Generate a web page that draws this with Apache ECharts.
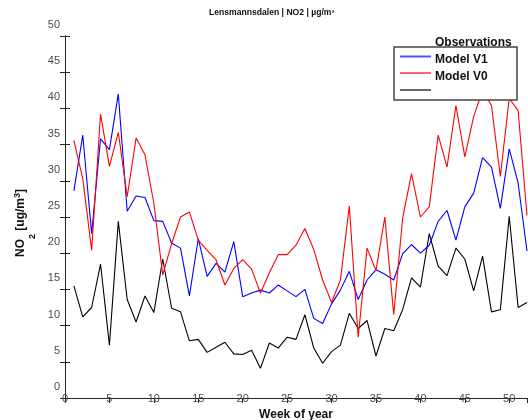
<!DOCTYPE html>
<html>
<head>
<meta charset="utf-8">
<script src="https://cdn.jsdelivr.net/npm/echarts@6/dist/echarts.min.js"></script>
<style>
  html, body { margin: 0; padding: 0; background: #fff; }
  #chart { width: 528px; height: 420px; }
</style>
</head>
<body>
<div id="chart"></div>
<script>
// Weekly mean NO2 at Lensmannsdalen, µg/m³
const weeks = [1, 2, 3, 4, 5, 6, 7, 8, 9, 10, 11, 12, 13, 14, 15, 16, 17, 18, 19, 20,
  21, 22, 23, 24, 25, 26, 27, 28, 29, 30, 31, 32, 33, 34, 35, 36, 37, 38, 39, 40,
  41, 42, 43, 44, 45, 46, 47, 48, 49, 50, 51, 52];

const observations = [15.5, 11.2, 12.5, 18.5, 7.3, 24.4, 13.6, 10.5, 14.1, 11.8,
  19.2, 12.4, 11.9, 7.9, 8.1, 6.3, 7.0, 7.7, 6.1, 6.0,
  6.6, 4.1, 7.6, 6.9, 8.4, 8.1, 11.5, 6.9, 4.8, 6.4,
  7.3, 11.7, 9.6, 10.7, 5.8, 9.6, 9.3, 12.2, 16.6, 15.3,
  22.7, 18.2, 16.9, 20.7, 19.2, 14.8, 19.6, 11.9, 12.2, 25.1,
  12.5, 13.2];

const modelV1 = [28.6, 36.3, 22.7, 35.8, 34.3, 42.0, 25.8, 27.9, 27.7, 24.5,
  24.4, 21.4, 20.7, 14.1, 22.0, 16.8, 18.6, 17.4, 21.6, 14.0,
  14.5, 14.9, 14.5, 15.6, 14.8, 14.0, 15.0, 11.0, 10.3, 13.0,
  14.9, 17.5, 13.6, 16.3, 17.7, 17.1, 16.3, 19.9, 21.2, 20.0,
  21.1, 24.4, 25.9, 21.8, 26.4, 28.3, 33.2, 31.9, 26.2, 34.4,
  29.7, 20.3];

const modelV0 = [35.6, 30.3, 20.4, 39.2, 32.0, 36.7, 27.8, 35.9, 33.6, 26.9,
  17.0, 21.3, 25.0, 25.7, 21.8, 20.4, 19.1, 15.6, 17.9, 19.1,
  17.8, 14.5, 17.3, 19.8, 19.8, 21.1, 23.4, 20.5, 16.3, 13.2,
  16.3, 26.5, 8.4, 20.7, 17.6, 25.0, 11.5, 24.8, 31.0, 25.0,
  26.4, 36.3, 31.9, 40.4, 33.3, 38.9, 42.5, 40.4, 30.6, 41.4,
  39.7, 25.2];

const xTicks = [0, 5, 10, 15, 20, 25, 30, 35, 40, 45, 50];
const yTicks = [0, 5, 10, 15, 20, 25, 30, 35, 40, 45, 50];

const FONT = 'Liberation Sans, Arial, sans-serif';
const AXIS_COLOR = '#262626';
const LABEL_COLOR = '#4a4a4a';

const pair = (xs, ys) => xs.map((x, i) => [x, ys[i]]);

const chart = echarts.init(document.getElementById('chart'), null, { renderer: 'canvas' });

const tickFmt = list => v => (list.indexOf(v) >= 0 ? String(v) : '');

const option = {
  animation: false,
  backgroundColor: '#fff',
  textStyle: { fontFamily: FONT },
  title: {
    text: 'Lensmannsdalen | NO2 | µg/m³',
    left: 209,
    top: 8,
    padding: 0,
    textStyle: { fontFamily: FONT, fontWeight: 'bold', fontSize: 8.6, color: '#111' }
  },
  grid: { left: 65, right: 1, top: 36, bottom: 22, containLabel: false, outerBoundsMode: 'none' },
  xAxis: [
    {
      type: 'value', min: 0, max: 52, interval: 5,
      name: 'Week of year', nameLocation: 'middle', nameGap: 2,
      nameTextStyle: { fontFamily: FONT, fontWeight: 'bold', fontSize: 12, color: '#111' },
      axisLine: { show: true, lineStyle: { color: AXIS_COLOR, width: 1 } },
      axisTick: { show: false },
      splitLine: { show: false },
      axisLabel: {
        margin: -5, fontSize: 11, color: LABEL_COLOR, fontFamily: FONT,
        formatter: tickFmt(xTicks)
      }
    },
    {
      type: 'value', min: 0, max: 52, interval: 5, position: 'top',
      axisLine: { show: true, lineStyle: { color: AXIS_COLOR, width: 1 } },
      axisTick: { show: true, inside: true, length: 5, lineStyle: { color: AXIS_COLOR } },
      axisLabel: { show: false },
      splitLine: { show: false }
    }
  ],
  yAxis: [
    {
      type: 'value', min: 0, max: 50, interval: 5,
      name: '{a|NO}{s|2}{a| [ug/m}{p|3}{a|]}',
      nameLocation: 'middle', nameRotate: 90, nameGap: 28,
      nameTextStyle: {
        padding: [0, 12, 0, 0],
        rich: {
          a: { fontFamily: FONT, fontWeight: 'bold', fontSize: 12, color: '#111', lineHeight: 32 },
          s: { fontFamily: FONT, fontWeight: 'bold', fontSize: 9, color: '#111', lineHeight: 10, verticalAlign: 'bottom' },
          p: { fontFamily: FONT, fontWeight: 'bold', fontSize: 9, color: '#111', verticalAlign: 'middle', padding: [0, 0, 6, 0] }
        }
      },
      axisLine: { show: true, lineStyle: { color: AXIS_COLOR, width: 1 } },
      axisTick: { show: true, inside: true, length: 5, lineStyle: { color: AXIS_COLOR } },
      splitLine: { show: false },
      axisLabel: {
        margin: 5, fontSize: 11, color: LABEL_COLOR, fontFamily: FONT,
        verticalAlign: 'bottom', lineHeight: 22,
        formatter: tickFmt(yTicks)
      }
    },
    {
      type: 'value', min: 0, max: 50, interval: 5, position: 'right',
      axisLine: { show: true, lineStyle: { color: AXIS_COLOR, width: 1 } },
      axisTick: { show: true, inside: true, length: 5, lineStyle: { color: AXIS_COLOR } },
      axisLabel: { show: false },
      splitLine: { show: false }
    }
  ],
  series: [
    {
      name: 'Observations', type: 'line', data: pair(weeks, observations),
      xAxisIndex: 0, yAxisIndex: 0, showSymbol: false, symbol: 'none',
      lineStyle: { color: '#000000', width: 1.1 }, z: 3
    },
    {
      name: 'Model V1', type: 'line', data: pair(weeks, modelV1),
      xAxisIndex: 0, yAxisIndex: 0, showSymbol: false, symbol: 'none',
      lineStyle: { color: '#0000ff', width: 1.1 }, z: 3
    },
    {
      name: 'Model V0', type: 'line', data: pair(weeks, modelV0),
      xAxisIndex: 0, yAxisIndex: 0, showSymbol: false, symbol: 'none',
      lineStyle: { color: '#ff0000', width: 1.1 }, z: 3
    }
  ],
  graphic: [
    {
      type: 'group', x: 394, y: 37, z: 100,
      children: [
        {
          type: 'rect', z: 100, shape: { x: 0, y: 10, width: 123, height: 53 },
          style: { fill: '#ffffff', stroke: '#454545', lineWidth: 1.5 }
        },
        { type: 'line', z: 101, shape: { x1: 6, y1: 19.5, x2: 37, y2: 19.5 }, style: { stroke: '#5050ff', lineWidth: 2 } },
        { type: 'line', z: 101, shape: { x1: 6, y1: 36, x2: 37, y2: 36 }, style: { stroke: '#ff0000', lineWidth: 1.2 } },
        { type: 'line', z: 101, shape: { x1: 6, y1: 53, x2: 37, y2: 53 }, style: { stroke: '#000000', lineWidth: 1.2 } },
        {
          type: 'text', z: 101, x: 41, y: 5.5,
          style: { text: 'Observations', font: 'bold 12px ' + FONT, fill: '#111', textVerticalAlign: 'middle' }
        },
        {
          type: 'text', z: 101, x: 41, y: 23,
          style: { text: 'Model V1', font: 'bold 12px ' + FONT, fill: '#111', textVerticalAlign: 'middle' }
        },
        {
          type: 'text', z: 101, x: 41, y: 39.5,
          style: { text: 'Model V0', font: 'bold 12px ' + FONT, fill: '#111', textVerticalAlign: 'middle' }
        }
      ]
    }
  ]
};

chart.setOption(option);
</script>
</body>
</html>
